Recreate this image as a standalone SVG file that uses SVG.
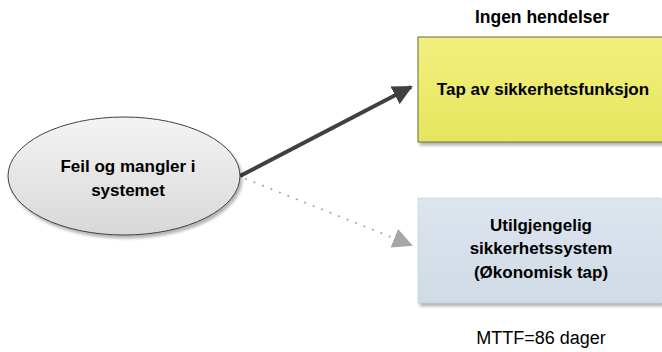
<svg xmlns="http://www.w3.org/2000/svg" width="662" height="352" viewBox="0 0 662 352">
  <defs>
    <linearGradient id="gEllipse" x1="0" y1="0" x2="0" y2="1">
      <stop offset="0" stop-color="#f4f4f4"/>
      <stop offset="1" stop-color="#d8d8d8"/>
    </linearGradient>
    <linearGradient id="gYellow" x1="0" y1="0" x2="0" y2="1">
      <stop offset="0" stop-color="#f2f07e"/>
      <stop offset="1" stop-color="#e6e55e"/>
    </linearGradient>
    <linearGradient id="gBlue" x1="0" y1="0" x2="0" y2="1">
      <stop offset="0" stop-color="#dde5ee"/>
      <stop offset="1" stop-color="#d0dbe6"/>
    </linearGradient>
    <filter id="shadow" x="-10%" y="-10%" width="130%" height="130%">
      <feGaussianBlur in="SourceAlpha" stdDeviation="1.5"/>
      <feOffset dx="2" dy="3"/>
      <feComponentTransfer><feFuncA type="linear" slope="0.3"/></feComponentTransfer>
      <feMerge><feMergeNode/><feMergeNode in="SourceGraphic"/></feMerge>
    </filter>
    <marker id="headDark" viewBox="0 0 10 10" refX="9" refY="5" markerWidth="5" markerHeight="5" orient="auto" markerUnits="strokeWidth">
      <path d="M0,0 L10,5 L0,10 Z" fill="#404040"/>
    </marker>
    <marker id="headGray" viewBox="0 0 10 10" refX="9" refY="5" markerWidth="10" markerHeight="10" orient="auto" markerUnits="strokeWidth">
      <path d="M0,0 L10,5 L0,10 Z" fill="#a6a6a6"/>
    </marker>
  </defs>
  <style>
    text { font-family: "Liberation Sans", Arial, sans-serif; font-size: 17px; fill: #000; text-anchor: middle; }
    .b { font-weight: bold; }
  </style>

  <!-- connectors -->
  <g id="connectors">
    <line x1="240" y1="176" x2="411" y2="87" stroke="#404040" stroke-width="4" marker-end="url(#headDark)"/>
    <line x1="246" y1="179" x2="411" y2="245" stroke="#a6a6a6" stroke-width="2" stroke-dasharray="0.1 9" stroke-linecap="round" marker-end="url(#headGray)"/>
  </g>

  <!-- source event -->
  <g id="node-feil">
    <ellipse cx="124" cy="176" rx="116" ry="59" fill="url(#gEllipse)" stroke="#404040" stroke-width="1" filter="url(#shadow)"/>
    <text class="b" x="128" y="172">Feil og mangler i</text>
    <text class="b" x="128" y="196">systemet</text>
  </g>

  <!-- outcome: loss of safety function -->
  <g id="node-tap">
    <text class="b" x="542" y="23" style="font-size:17.5px">Ingen hendelser</text>
    <rect x="418" y="37" width="260" height="105" fill="url(#gYellow)" stroke="#6b6b3a" stroke-width="1" filter="url(#shadow)"/>
    <text class="b" x="543" y="95">Tap av sikkerhetsfunksjon</text>
  </g>

  <!-- outcome: unavailable safety system -->
  <g id="node-utilgjengelig">
    <rect x="418" y="198" width="260" height="105" fill="url(#gBlue)" stroke="#b8c6d6" stroke-width="1" stroke-dasharray="1 1" filter="url(#shadow)"/>
    <text class="b" x="541" y="231">Utilgjengelig</text>
    <text class="b" x="541" y="254">sikkerhetssystem</text>
    <text class="b" x="541" y="278">(Økonomisk tap)</text>
    <text x="541" y="344" style="font-size:18px">MTTF=86 dager</text>
  </g>
</svg>
